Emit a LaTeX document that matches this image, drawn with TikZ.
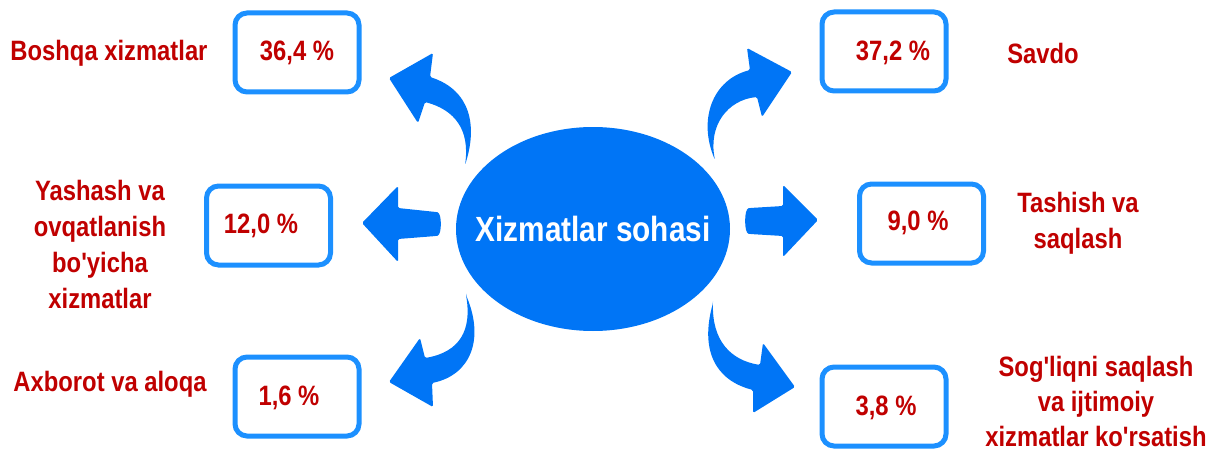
\documentclass[tikz,border=0pt]{standalone}
\usepackage{fontspec}
\newfontfamily\lab{Liberation Sans}[FakeStretch=0.85]
\usetikzlibrary{shapes.geometric}
\definecolor{arrowblue}{RGB}{0,117,246}
\definecolor{boxblue}{RGB}{28,144,255}
\definecolor{labred}{RGB}{192,0,0}
\begin{document}
\begin{tikzpicture}[x=1pt,y=-1pt,
  valbox/.style={draw=boxblue,line width=5pt,rounded corners=12pt,minimum width=124pt,minimum height=79pt,inner sep=0pt},
  valtext/.style={text=labred,font=\lab\bfseries\fontsize{28}{36}\selectfont,inner sep=0pt},
  labtext/.style={text=labred,font=\lab\bfseries\fontsize{28}{36}\selectfont,inner sep=0pt,align=center},
  blockarrow/.style={fill=arrowblue,rounded corners=1.5pt}]
\useasboundingbox (0,0) rectangle (1219,452);

% centre
\node[ellipse,fill=arrowblue,minimum width=274pt,minimum height=204pt,inner sep=0pt] (hub) at (593,229) {};
\node[text=white,font=\lab\bfseries\fontsize{35}{40}\selectfont,inner sep=0pt] (hubtext) at (hub.center) {Xizmatlar sohasi};

% boxes
\node[valbox] (b1) at (297,52.5) {};
\node[valbox] (b2) at (268.5,225.5) {};
\node[valbox] (b3) at (297,396.5) {};
\node[valbox] (b4) at (884,51.5) {};
\node[valbox] (b5) at (921.5,223.5) {};
\node[valbox] (b6) at (884,406.5) {};

% values
\node[valtext] (v1) at (297,53) {36,4 \%};
\node[valtext] (v2) at (261,226) {12,0 \%};
\node[valtext] (v3) at (289,398) {1,6 \%};
\node[valtext] (v4) at (893,53) {37,2 \%};
\node[valtext] (v5) at (918,223) {9,0 \%};
\node[valtext] (v6) at (886,408) {3,8 \%};

% labels
\node[labtext] (l1) at (109,53) {Boshqa xizmatlar};
\node[labtext] (l2) at (100,244) {Yashash va\\ovqatlanish\\bo'yicha\\xizmatlar};
\node[labtext] (l3) at (110,384) {Axborot va aloqa};
\node[labtext] (l4) at (1043,53) {Savdo};
\node[labtext] (l5) at (1078,223) {Tashish va\\saqlash};
\node[labtext,font=\lab\bfseries\fontsize{28}{35}\selectfont] (l6) at (1096,401) {Sog'liqni saqlash\\va ijtimoiy\\xizmatlar ko'rsatish};

% straight arrows
\fill[blockarrow] (362,223) -- (398,186) -- (398,208) -- (436,212)
   .. controls (442,213) and (442,235) .. (436,236) -- (398,239) -- (398,262) -- cycle;
\fill[blockarrow] (818,220) -- (783,185) -- (783,206) -- (750,208)
   .. controls (744,209) and (744,233) .. (750,234) -- (783,236) -- (783,257) -- cycle;

% curved arrows
\fill[blockarrow] (465,165) .. controls (478,125) and (470,90) .. (430,77)
   -- (433,53) -- (389,78) -- (418,123) -- (425,102)
   .. controls (455,110) and (470,130) .. (465,165) -- cycle;
\fill[blockarrow] (715,160) .. controls (698,120) and (712,80) .. (750,70)
   -- (747,48) -- (792,72) -- (762,117) -- (757,97)
   .. controls (728,100) and (708,125) .. (715,160) -- cycle;
\fill[blockarrow] (466,295) .. controls (485,340) and (470,375) .. (432,383)
   -- (433,407) -- (389,382) -- (420,338) -- (425,358)
   .. controls (460,352) and (472,330) .. (466,295) -- cycle;
\fill[blockarrow] (713,303) .. controls (700,350) and (715,380) .. (753,390)
   -- (753,413) -- (795,387) -- (763,343) -- (760,365)
   .. controls (730,360) and (712,340) .. (713,303) -- cycle;
\end{tikzpicture}
\end{document}
